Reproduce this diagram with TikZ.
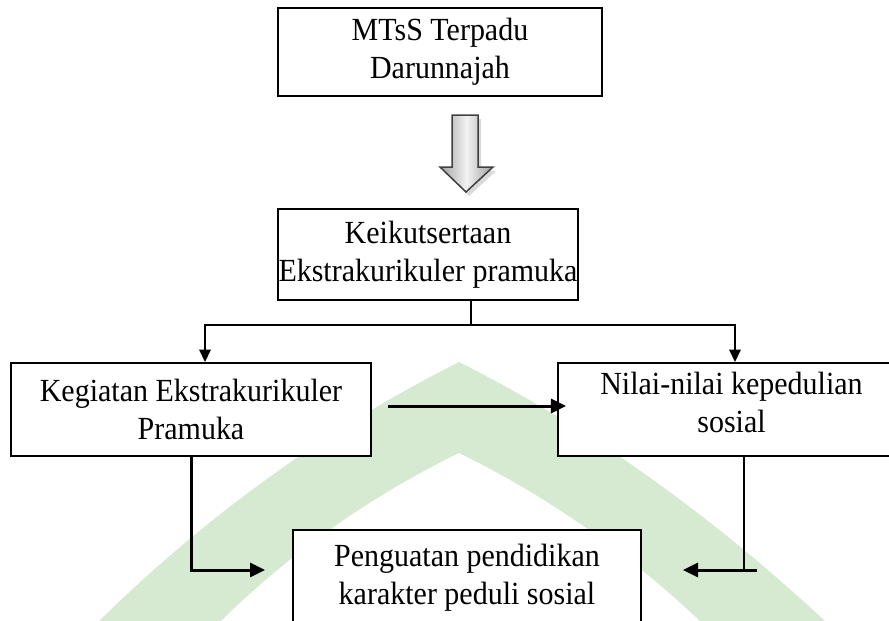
\documentclass[tikz,border=0pt]{standalone}
\usepackage{fontspec}
\setmainfont{Liberation Serif}[FakeStretch=0.93]
\usetikzlibrary{arrows.meta, positioning}
\definecolor{wmgreen}{RGB}{214,234,209}

\begin{document}
\begin{tikzpicture}[x=0.4pt, y=-0.4pt, thick,
    every node/.style={font=\fontsize{12.9}{15.2}\selectfont},
    box/.style={draw, fill=white, align=center, inner sep=0pt},
    arr/.style={-{Triangle[length=5pt, width=4.6pt]}},
    barr/.style={line width=1.2pt, -{Triangle[length=6pt, width=5.6pt]}}]
  \useasboundingbox (0,0) rectangle (889,621);
  \clip (0,0) rectangle (889,621);

  % faint logo in the background
  \fill[wmgreen, even odd rule]
    (99,621) .. controls (206,516) and (326,429) .. (459,362)
             .. controls (592,429) and (712,516) .. (825,621) -- cycle
    (221,621) .. controls (291,552) and (371,496) .. (459,453)
              .. controls (547,496) and (627,552) .. (700,621) -- cycle;

  % Draw the boxes
  \node[box, minimum width=129.2pt, minimum height=35.2pt] (sekolah) at (440,52) {MTsS Terpadu\\Darunnajah};
  \node[box, minimum width=120pt, minimum height=36.4pt] (ikut) at (428,254.5) {Keikutsertaan\\Ekstrakurikuler pramuka};
  \node[box, minimum width=144pt, minimum height=37.2pt] (kegiatan) at (191,409.5) {Kegiatan Ekstrakurikuler\\Pramuka};
  \node[box, minimum width=138.8pt, minimum height=37.2pt] (nilai) at (731.5,409.5) {Nilai-nilai kepedulian\\sosial\\[-9.5pt]};
  \node[box, minimum width=139.2pt, minimum height=38.4pt] (karakter) at (467,578) {Penguatan pendidikan\\karakter peduli sosial};

  % Draw the block arrow with its shadow
  \fill[gray!30] (455,119) -- (481,119) -- (481,171) -- (496,171) -- (469,196) -- (443,171) -- (455,171) -- cycle;
  \draw[gray!50!black, line width=0.6pt, left color=gray!75, right color=gray!75, middle color=gray!10]
    (452,115) -- (478,115) -- (478,167) -- (493,167) -- (466,192) -- (440,167) -- (452,167) -- cycle;

  % Draw the branch below the second box
  \coordinate (cabang) at (471,325);
  \coordinate (kiri) at (205,325);
  \coordinate (kanan) at (735,325);
  \draw (ikut.south -| cabang) -- (cabang);
  \draw[arr] (cabang) -- (kiri) -- (kiri |- kegiatan.north);
  \draw[arr] (cabang) -- (kanan) -- (kanan |- nilai.north);

  % Draw the arrow between the two middle boxes
  \coordinate (tengah) at (388,406);
  \draw[barr] (tengah) -- ([xshift=3.6pt]nilai.west |- tengah);

  % Draw the wires into the last box
  \coordinate (masukkiri) at (265,570);
  \draw[barr] (kegiatan.south) |- (masukkiri);

  \coordinate (turun) at (744,570);
  \coordinate (ujung) at (757,570);
  \coordinate (masukkanan) at (683,570);
  \draw (nilai.south -| turun) -- (turun);
  \draw[barr] (ujung) -- (masukkanan);
\end{tikzpicture}
\end{document}
